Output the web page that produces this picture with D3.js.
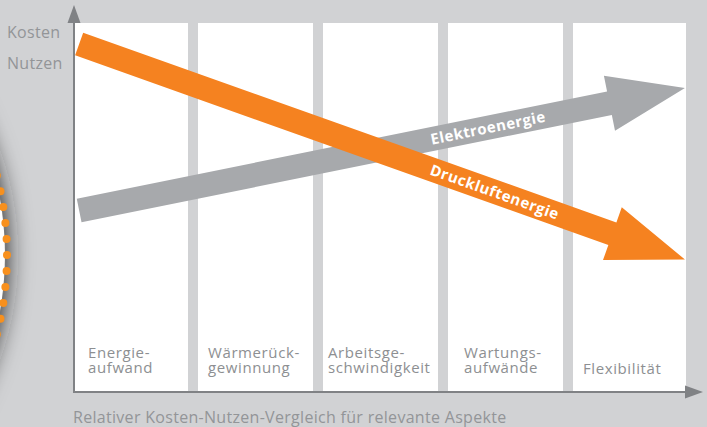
<!DOCTYPE html>
<html>
<head>
<meta charset="utf-8">
<script src="https://cdn.jsdelivr.net/npm/d3@7"></script>
<style>
  html, body { margin: 0; padding: 0; background: #d1d2d4; }
  svg { display: block; font-family: "Open Sans", "Noto Sans", sans-serif; }
</style>
</head>
<body>
<svg width="707" height="427"></svg>
<script>
let width = 707;
let height = 427;

// categories (aspects), each split in lines as in the original
var categories = ["Energieaufwand", "Wärmerückgewinnung", "Arbeitsgeschwindigkeit", "Wartungsaufwände", "Flexibilität"];
var categoryLines = [["Energie-", "aufwand"], ["Wärmerück-", "gewinnung"], ["Arbeitsge-", "schwindigkeit"], ["Wartungs-", "aufwände"], ["Flexibilität"]];

// series: relative value at start and end of the comparison (0..100)
var seriesNames = ["Elektroenergie", "Druckluftenergie"];
var arrowSpan = [0.05, 4.975];          // along the aspects axis (0..5)
var elektroenergie = [49.2, 82.4];
var druckluftenergie = [94.3, 35.9];

var yLabels = ["Kosten", "Nutzen"];
var xTitle = "Relativer Kosten-Nutzen-Vergleich für relevante Aspekte";

// layout only
var labelDx = [15, 10, 5, 16, 10];
var seriesColor = ["#a7a9ac", "#f58220"];
var labelAt = [0.675, 0.686];

var svg = d3.select("svg");
var defs = svg.append("defs");

svg.append("rect").attr("width", width).attr("height", height).attr("fill", "#d1d2d4");

// left decoration: white disc with soft shadow and orange dots
defs.append("filter").attr("id", "blur")
  .attr("x", "-50%").attr("y", "-50%").attr("width", "200%").attr("height", "200%")
  .append("feGaussianBlur").attr("stdDeviation", 13);

var cx = -308, cy = 255, R = 314;
svg.append("circle").attr("cx", cx).attr("cy", cy).attr("r", R)
  .attr("fill", "#1a1a1c").attr("filter", "url(#blur)");
svg.append("circle").attr("cx", cx).attr("cy", cy).attr("r", R - 1).attr("fill", "#ffffff");
svg.append("g").selectAll("circle")
  .data(d3.range(-6, 7))
  .enter().append("circle")
    .attr("cx", function(d) { return cx + (R + 1) * Math.cos(d * 16 / R); })
    .attr("cy", function(d) { return cy + (R + 1) * Math.sin(d * 16 / R); })
    .attr("r", 4)
    .attr("fill", "#f7901e");

// scales
var x = d3.scaleBand().domain(categories).range([73, 688]).paddingInner(0.08).paddingOuter(0);
var xLin = d3.scaleLinear().domain([0, 5]).range([73, 688]);
var y = d3.scaleLinear().domain([0, 100]).range([392, 23]);

// white columns
svg.append("g").selectAll("rect")
  .data(categories)
  .enter().append("rect")
    .attr("x", function(d) { return x(d); })
    .attr("y", y(100))
    .attr("width", function(d, i) { return i == categories.length - 1 ? x.bandwidth() - 2 : x.bandwidth(); })
    .attr("height", y(0) - y(100))
    .attr("fill", "#ffffff");

// column labels
var lab = svg.append("g").selectAll("text")
  .data(categories)
  .enter().append("text")
    .attr("fill", "#8d8f92")
    .attr("font-size", 15)
    .attr("letter-spacing", 0.6)
    .attr("y", function(d, i) { return categoryLines[i].length > 1 ? 358 : 374; });
lab.each(function(d, i) {
  var t = d3.select(this);
  categoryLines[i].forEach(function(line, j) {
    t.append("tspan")
      .attr("x", x(d) + labelDx[i])
      .attr("dy", j == 0 ? 0 : 15)
      .text(line);
  });
});

// arrows
function arrowPath(p0, p1) {
  var dx = p1[0] - p0[0], dy = p1[1] - p0[1];
  var len = Math.sqrt(dx * dx + dy * dy);
  var ux = dx / len, uy = dy / len;
  var nx = -uy, ny = ux;
  var w = 12, H = 28, L = 77;
  var bx = p1[0] - ux * L, by = p1[1] - uy * L;
  var pts = [
    [p0[0] + nx * w, p0[1] + ny * w],
    [bx + nx * w, by + ny * w],
    [bx + nx * H, by + ny * H],
    p1,
    [bx - nx * H, by - ny * H],
    [bx - nx * w, by - ny * w],
    [p0[0] - nx * w, p0[1] - ny * w]
  ];
  return "M" + pts.map(function(p) { return p.join(","); }).join("L") + "Z";
}

var series = [elektroenergie, druckluftenergie];
series.forEach(function(s, i) {
  var p0 = [xLin(arrowSpan[0]), y(s[0])];
  var p1 = [xLin(arrowSpan[1]), y(s[1])];
  svg.append("path").attr("d", arrowPath(p0, p1)).attr("fill", seriesColor[i]);

  var ang = Math.atan2(p1[1] - p0[1], p1[0] - p0[0]) * 180 / Math.PI;
  var tx = p0[0] + (p1[0] - p0[0]) * labelAt[i];
  var ty = p0[1] + (p1[1] - p0[1]) * labelAt[i];
  svg.append("text")
    .attr("transform", "translate(" + tx + "," + ty + ") rotate(" + ang + ")")
    .attr("text-anchor", "middle")
    .attr("dy", "0.36em")
    .attr("fill", "#ffffff")
    .attr("font-weight", "bold")
    .attr("font-size", 15)
    .attr("letter-spacing", 0.5)
    .text(seriesNames[i]);
});

// axes with arrow heads
var axisColor = "#808285";
svg.append("line").attr("x1", 74).attr("x2", 74).attr("y1", y(0) + 1).attr("y2", 20)
  .attr("stroke", axisColor).attr("stroke-width", 2);
svg.append("path").attr("d", "M74,5L80.5,23L67.5,23Z").attr("fill", axisColor);
svg.append("line").attr("x1", 73).attr("x2", 688).attr("y1", y(0)).attr("y2", y(0))
  .attr("stroke", axisColor).attr("stroke-width", 2);
svg.append("path").attr("d", "M703," + y(0) + "L685," + (y(0) - 6.5) + "L685," + (y(0) + 6.5) + "Z").attr("fill", axisColor);

// axis labels
svg.append("g").selectAll("text")
  .data(yLabels)
  .enter().append("text")
    .attr("x", 7)
    .attr("y", function(d, i) { return 38 + i * 31; })
    .attr("fill", "#939598")
    .attr("font-size", 16)
    .attr("letter-spacing", 0.3)
    .text(function(d) { return d; });

svg.append("text")
  .attr("x", 73).attr("y", 423)
  .attr("fill", "#939598")
  .attr("font-size", 16)
  .attr("letter-spacing", 0.3)
  .text(xTitle);
</script>
</body>
</html>
